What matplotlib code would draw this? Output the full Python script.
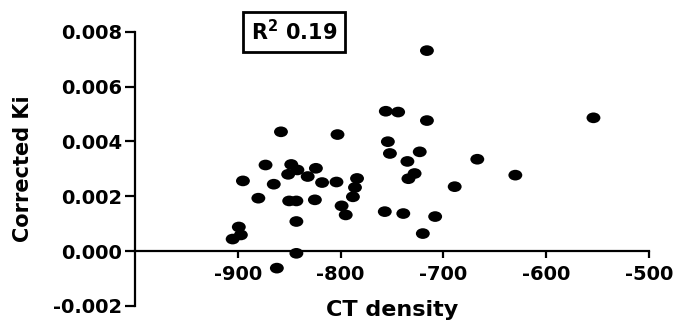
import matplotlib
matplotlib.use('Agg')
import matplotlib.pyplot as plt
import numpy as np
from matplotlib.path import Path
from matplotlib.transforms import Affine2D

plt.rcParams['axes.unicode_minus'] = False

# CT density (x) and corrected Ki (y)
ct_density = [-858, -803, -756, -744, -754, -752, -723, -735, -728, -734,
              -873, -895, -865, -880, -848, -842, -851, -832, -824, -818,
              -804, -850, -843, -825, -843, -799, -795, -784, -786, -788,
              -757, -739, -899, -897, -905, -843, -862, -720,
              -716, -716, -554, -667, -630, -689, -708]
corrected_ki = [0.00435, 0.00425, 0.00510, 0.00507, 0.00399, 0.00356, 0.00362, 0.00327, 0.00283, 0.00264,
                0.00314, 0.00256, 0.00244, 0.00193, 0.00316, 0.00296, 0.00280, 0.00272, 0.00302, 0.00250,
                0.00252, 0.00183, 0.00183, 0.00187, 0.00108, 0.00165, 0.00132, 0.00265, 0.00232, 0.00198,
                0.00144, 0.00137, 0.00088, 0.00059, 0.00044, -0.00008, -0.00062, 0.00064,
                0.00731, 0.00476, 0.00486, 0.00335, 0.00277, 0.00235, 0.00126]

x_ticks = [-900, -800, -700, -600, -500]
y_ticks = [-0.002, 0.000, 0.002, 0.004, 0.006, 0.008]
r2_text = r'R$\mathbf{^2}$ 0.19'

# slightly squashed dot, like the stretched original
circle = Path.unit_circle()
ellipse = Path(Affine2D().scale(1.3, 1.0).transform(circle.vertices), circle.codes)

fig = plt.figure(figsize=(6.77, 3.25), dpi=100)
ax = fig.add_axes([0.1994, 0.0585, 0.7592, 0.844])

ax.scatter(ct_density, corrected_ki, marker=ellipse, s=10 ** 2,
           color='black', edgecolors='none', zorder=3)

ax.set_xlim(-1000, -500)
ax.set_ylim(-0.002, 0.008)

ax.spines['top'].set_visible(False)
ax.spines['right'].set_visible(False)
ax.spines['bottom'].set_position(('data', 0))
for s in ('left', 'bottom'):
    ax.spines[s].set_linewidth(1.6)

ax.set_xticks(x_ticks)
ax.set_yticks(y_ticks)
ax.set_yticklabels([f'{v:.3f}' for v in y_ticks])
ax.tick_params(axis='both', width=1.6, colors='black')
ax.tick_params(axis='y', length=7, pad=2)
ax.tick_params(axis='x', length=5, pad=5)
for lab in ax.get_xticklabels() + ax.get_yticklabels():
    lab.set_fontweight('bold')
    lab.set_fontsize(14)

ax.set_xlabel('CT density', fontsize=16, fontweight='bold')
ax.xaxis.set_label_coords(0.5, 0.022)
ax.set_ylabel('Corrected Ki', fontsize=15, fontweight='bold')
ax.yaxis.set_label_coords(-0.198, 0.5)

fig.text(294 / 677, 1 - 32 / 325, r2_text, fontsize=15, fontweight='bold',
         ha='center', va='center',
         bbox=dict(boxstyle='square,pad=0.35', facecolor='white',
                   edgecolor='black', linewidth=2))

fig.savefig('out.png', dpi=100, facecolor='white')
